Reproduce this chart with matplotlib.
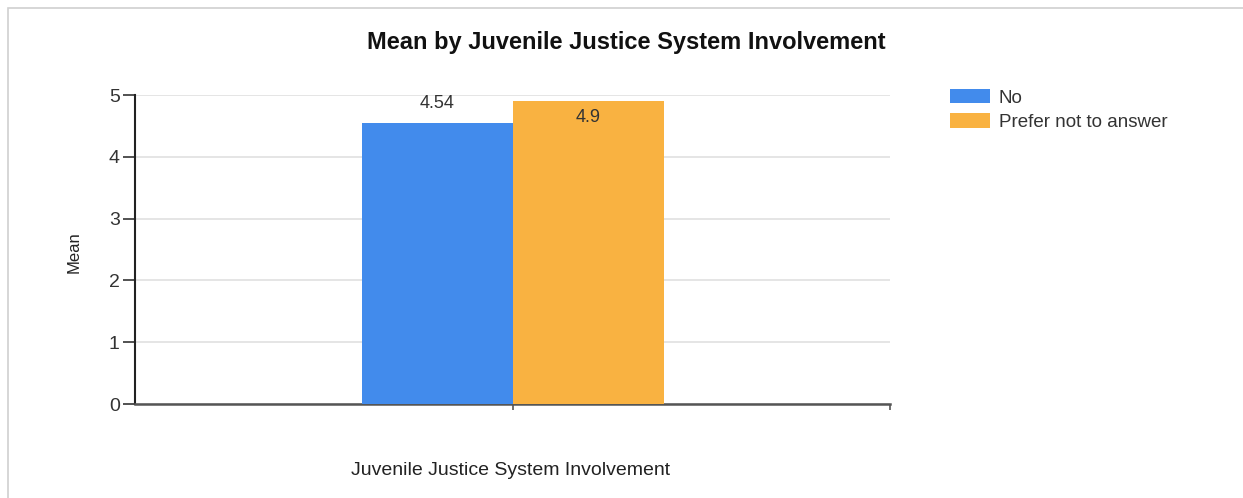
import matplotlib
matplotlib.use("Agg")
import matplotlib.pyplot as plt
from matplotlib.patches import Rectangle

plt.rcParams['font.family'] = ['Liberation Sans', 'DejaVu Sans']

title = "Mean by Juvenile Justice System Involvement"
xlabel = "Juvenile Justice System Involvement"
ylabel = "Mean"
series_names = ["No", "Prefer not to answer"]
series_values = [4.54, 4.9]
series_labels = ["4.54", "4.9"]
colors = ["#428BEC", "#F9B241"]
yticks = [0, 1, 2, 3, 4, 5]

W, H = 1243, 498
fig = plt.figure(figsize=(W / 100, H / 100), dpi=100)

# outer light border
fig.patches.append(Rectangle((8 / W, -0.01), 1.2, (H - 8) / H + 0.01, transform=fig.transFigure,
                             fill=False, edgecolor="#d0d0d0", linewidth=1.2))

ax = fig.add_axes([135 / W, 1 - 404 / H, (890 - 135) / W, (404 - 95) / H])
ax.set_xlim(-0.5, 0.5)
ax.set_ylim(0, 5)

bw = 0.2
offsets = [-bw / 2, bw / 2]
for name, v, lab, c, off in zip(series_names, series_values, series_labels, colors, offsets):
    ax.bar(off, v, width=bw, color=c, label=name, zorder=3)
    if v > 4.75:
        ax.annotate(lab, (off, v), xytext=(0, -11.5), textcoords="offset points",
                    ha="center", va="center", fontsize=13, color="#333333", zorder=4)
    else:
        ax.annotate(lab, (off, v), xytext=(0, 14.5), textcoords="offset points",
                    ha="center", va="center", fontsize=13, color="#333333", zorder=4)

ax.set_yticks(yticks)
ax.set_yticklabels([str(t) for t in yticks], fontsize=14, color="#333333")
ax.yaxis.grid(True, color="#e3e3e3", linewidth=1.3, zorder=0)
ax.set_axisbelow(True)
ax.tick_params(axis="y", length=9, width=1.2, color="#333333", pad=2)
ax.set_xticks([0, 0.5])
ax.set_xticklabels(["", ""])
ax.tick_params(axis="x", length=4, width=1.2, color="#555555")

for s in ["top", "right"]:
    ax.spines[s].set_visible(False)
ax.spines["left"].set_color("#222222")
ax.spines["left"].set_linewidth(1.5)
ax.spines["bottom"].set_color("#555555")
ax.spines["bottom"].set_linewidth(1.8)

fig.text(626 / W, 1 - 43 / H, title, ha="center", va="center", fontsize=17,
         fontweight="bold", color="#111111")
fig.text(511 / W, 1 - 470 / H, xlabel, ha="center", va="center", fontsize=14, color="#222222")
fig.text(74 / W, 1 - 252 / H, ylabel, ha="center", va="center", fontsize=12,
         rotation=90, color="#222222")

leg = ax.legend(loc="upper left", bbox_to_anchor=(935 / W, 1 - 74 / H),
                bbox_transform=fig.transFigure, frameon=False, fontsize=13.5,
                handlelength=2.15, handleheight=0.8, labelspacing=0.36,
                handletextpad=0.45, borderpad=0.3)
for t in leg.get_texts():
    t.set_color("#333333")

fig.savefig("out.png", dpi=100)
